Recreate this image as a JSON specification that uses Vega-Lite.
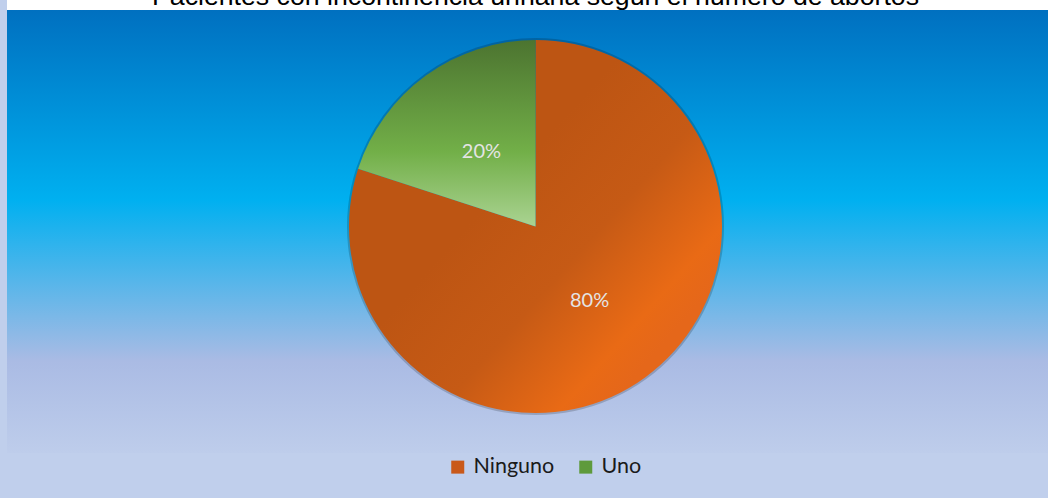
{
  "$schema": "https://vega.github.io/schema/vega-lite/v6.json",
  "autosize": "none",
  "width": 1057,
  "height": 453,
  "padding": {"left": 7, "top": 0, "right": -16, "bottom": 45},
  "background": "#C0CFEC",
  "title": {
    "text": "Pacientes con incontinencia urinaria según el número de abortos",
    "font": "Liberation Sans",
    "fontSize": 26.7,
    "fontWeight": "normal",
    "color": "#000000",
    "baseline": "alphabetic",
    "offset": -32,
    "anchor": "middle",
    "zindex": 1
  },
  "view": {
    "stroke": null,
    "fill": {
      "gradient": "linear",
      "x1": 0, "y1": 0, "x2": 0, "y2": 1,
      "stops": [
        {"offset": 0, "color": "#FFFFFF"},
        {"offset": 0.0221, "color": "#FFFFFF"},
        {"offset": 0.0221, "color": "#0070C0"},
        {"offset": 0.4415, "color": "#00B0F0"},
        {"offset": 0.797, "color": "#AABBE4"},
        {"offset": 1, "color": "#BECDEB"}
      ]
    }
  },
  "data": {
    "values": [
      {"categoria": "Ninguno", "valor": 0.8},
      {"categoria": "Uno", "valor": 0.2}
    ]
  },
  "layer": [
    {
      "mark": {"type": "arc", "outerRadius": 188.5, "color": "#000000", "opacity": 0.18},
      "encoding": {
        "theta": {"field": "valor", "type": "quantitative", "stack": true},
        "order": {"field": "categoria", "sort": "ascending"}
      }
    },
    {
      "mark": {"type": "arc", "outerRadius": 186.5},
      "encoding": {
        "theta": {"field": "valor", "type": "quantitative", "stack": true},
        "order": {"field": "categoria", "sort": "ascending"},
        "color": {
          "field": "categoria",
          "type": "nominal",
          "scale": {"domain": ["Ninguno", "Uno"], "range": ["#C9591A", "#5E9A3C"]},
          "legend": {"title": null, "orient": "none", "direction": "horizontal", "legendX": 440, "legendY": 456},
          "condition": [
            {
              "test": "datum.categoria === 'Uno'",
              "value": {
                "gradient": "linear",
                "x1": 0, "y1": 0, "x2": 0, "y2": 1,
                "stops": [
                  {"offset": 0, "color": "#4C7430"},
                  {"offset": 0.6, "color": "#72AF48"},
                  {"offset": 1, "color": "#AAD392"}
                ]
              }
            },
            {
              "test": "datum.categoria === 'Ninguno'",
              "value": {
                "gradient": "linear",
                "x1": 0.45, "y1": 0.35, "x2": 0.9, "y2": 0.75,
                "stops": [
                  {"offset": 0, "color": "#BD5513"},
                  {"offset": 0.45, "color": "#C65A15"},
                  {"offset": 0.85, "color": "#E96A15"},
                  {"offset": 1, "color": "#E5671A"}
                ]
              }
            }
          ]
        }
      }
    },
    {
      "mark": {"type": "text", "radius": 92, "font": "Lato", "fontSize": 20, "color": "#E4E4E4"},
      "encoding": {
        "theta": {"field": "valor", "type": "quantitative", "stack": true},
        "order": {"field": "categoria", "sort": "ascending"},
        "text": {"field": "valor", "type": "quantitative", "format": ".0%"}
      }
    }
  ],
  "config": {
    "legend": {
      "labelFont": "Lato",
      "labelFontSize": 21.5,
      "labelColor": "#1A1A1A",
      "symbolType": "square",
      "symbolSize": 169,
      "symbolStrokeWidth": 0,
      "columnPadding": 20,
      "labelOffset": 5
    }
  }
}
